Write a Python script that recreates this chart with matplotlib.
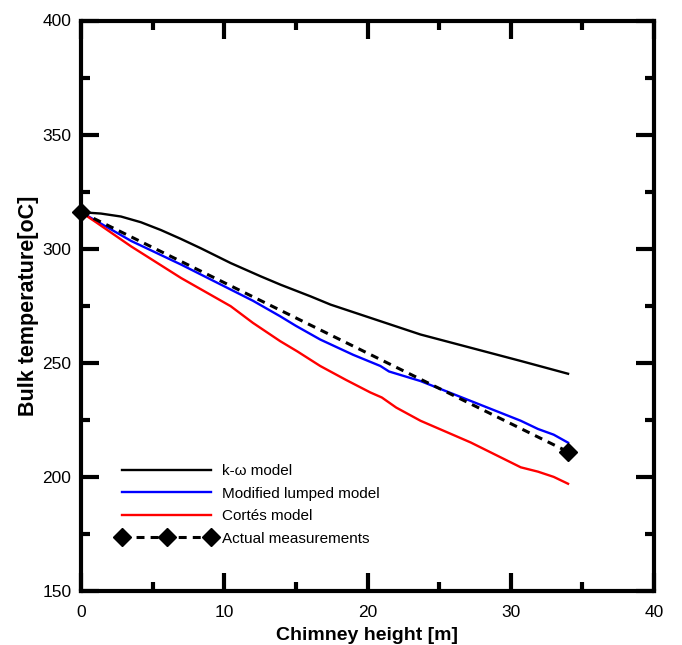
import matplotlib
matplotlib.use('Agg')
import matplotlib.pyplot as plt
from matplotlib.ticker import MultipleLocator

plt.rcParams['font.family'] = ['Liberation Sans', 'DejaVu Sans']

# k-omega model
kw_x = [0, 1.39, 2.79, 4.18, 5.57, 6.97, 8.36, 10.45, 12.54, 13.94, 16.03, 17.42,
        20.2, 23.7, 27.2, 30.7, 34]
kw_T = [316, 315.4, 314.1, 311.6, 308.2, 304.3, 300.2, 293.7, 287.9, 284.2, 279.1, 275.5,
        269.7, 262.4, 256.6, 250.8, 245.2]

# modified lumped model
ml_x = [0, 1, 3.5, 7, 10.45, 12, 13.9, 15, 16.7, 19, 20.9, 21.5, 23.7, 27.2, 30.7, 31.9, 33, 34]
ml_T = [316, 312.4, 303.4, 293, 282.1, 277.2, 270.4, 266.2, 260.2, 253.5, 248.6, 246.2, 242,
        233.3, 224.6, 221, 218.5, 215]

# Cortes model
co_x = [0, 1, 3.5, 7, 10.45, 12, 13.9, 15.1, 16.7, 18.5, 20.2, 21, 22, 23.7, 27.2, 30.7, 31.9, 33, 34]
co_T = [316, 311.8, 301, 287.1, 274.8, 267.5, 259.5, 255, 248.6, 242.5, 237, 234.8, 230.4,
        224.6, 215.1, 204.2, 202.3, 200, 197]

# measurements
meas_x = [0, 34]
meas_T = [316, 211]

fig = plt.figure(figsize=(6.82, 6.45), dpi=100)
ax = fig.add_axes([81 / 682, 54 / 645, 573 / 682, 570.5 / 645])

ax.plot(kw_x, kw_T, color='black', lw=1.7, label='k-\u03c9 model')
ax.plot(ml_x, ml_T, color='#0000ff', lw=1.7, label='Modified lumped model')
ax.plot(co_x, co_T, color='#ff0000', lw=1.7, label='Cort\u00e9s model')
ax.plot(meas_x, meas_T, color='black', lw=2.2, linestyle=(0, (2.6, 2.0)),
        marker='D', markersize=9, label='Actual measurements', clip_on=False)

ax.set_xlim(0, 40)
ax.set_ylim(150, 400)
ax.xaxis.set_major_locator(MultipleLocator(10))
ax.xaxis.set_minor_locator(MultipleLocator(5))
ax.yaxis.set_major_locator(MultipleLocator(50))
ax.yaxis.set_minor_locator(MultipleLocator(25))

ax.tick_params(which='both', direction='in', top=True, right=True, width=3,
               labelsize=12.5)
ax.tick_params(which='major', length=13)
ax.tick_params(axis='x', which='both', pad=10)
ax.tick_params(axis='y', which='both', pad=7)
ax.tick_params(which='minor', length=6.5)
for s in ax.spines.values():
    s.set_linewidth(3)

ax.set_xlabel('Chimney height [m]', fontsize=14, fontweight='bold', labelpad=5)
ax.set_ylabel('Bulk temperature[oC]', fontsize=15.5, fontweight='bold', labelpad=2)

ax.legend(loc='upper left', bbox_to_anchor=(0.04, 0.246), frameon=False,
          fontsize=11, handlelength=6.4, numpoints=3, labelspacing=0.55,
          handletextpad=0.4)

fig.savefig('out.png', dpi=100)
